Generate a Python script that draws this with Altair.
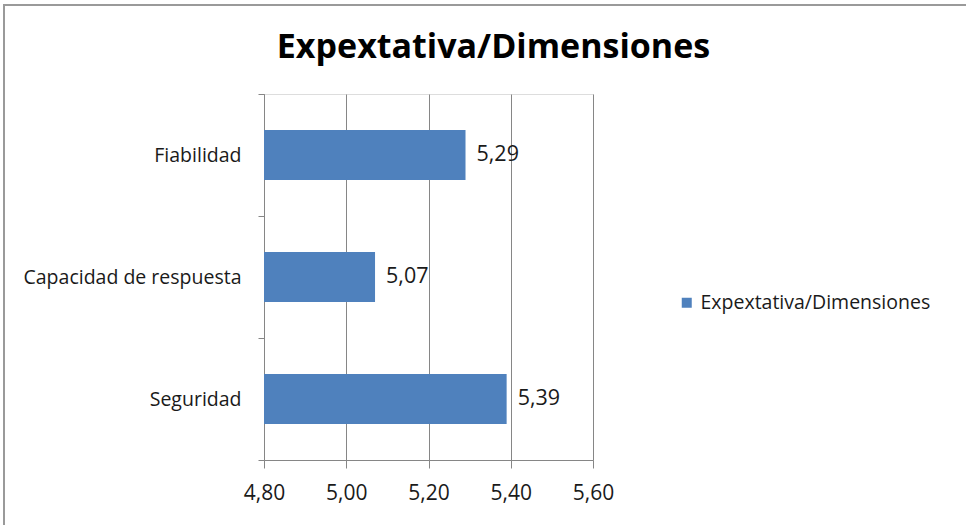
import altair as alt
import pandas as pd

# Chart data
categories = ["Fiabilidad", "Capacidad de respuesta", "Seguridad"]
values = [5.29, 5.07, 5.39]
series_name = "Expextativa/Dimensiones"
x_ticks = [4.80, 5.00, 5.20, 5.40, 5.60]

df = pd.DataFrame({
    "dimension": categories,
    "valor": values,
    "serie": [series_name] * len(categories),
})

FONT = "Open Sans"
GRAY = "#868686"
BAR = "#4F81BD"
TEXT = "#1a1a1a"
comma_fmt = "replace(format(datum.value, '.2f'), '.', ',')"

base = alt.Chart(df).transform_calculate(
    etiqueta="replace(format(datum.valor, '.2f'), '.', ',')"
)

y_enc = alt.Y(
    "dimension:N",
    sort=categories,
    title=None,
    scale=alt.Scale(paddingInner=0, paddingOuter=0),
    axis=alt.Axis(
        tickBand="extent",
        tickSize=6,
        tickColor=GRAY,
        domainColor=GRAY,
        labelFont=FONT,
        labelFontSize=19.5,
        labelColor=TEXT,
        labelPadding=17,
        labelLimit=400,
        grid=False,
    ),
)

x_enc = alt.X(
    "valor:Q",
    title=None,
    scale=alt.Scale(domain=[4.8, 5.6], zero=False, nice=False),
    axis=alt.Axis(
        values=x_ticks,
        labelExpr=comma_fmt,
        labelFlush=False,
        labelOverlap=False,
        grid=True,
        gridColor=GRAY,
        gridWidth=1,
        gridOpacity=1,
        tickSize=8,
        tickColor=GRAY,
        domainColor=GRAY,
        labelFont=FONT,
        labelFontSize=21,
        labelColor=TEXT,
        labelPadding=14,
    ),
)

bars = base.mark_bar(size=50).encode(
    y=y_enc,
    x=x_enc,
    x2=alt.datum(4.8),
    color=alt.Color(
        "serie:N",
        scale=alt.Scale(range=[BAR]),
        legend=alt.Legend(
            title=None,
            orient="none",
            legendX=413,
            legendY=199,
            symbolType="square",
            symbolSize=100,
            symbolStrokeWidth=0,
            labelFont=FONT,
            labelFontSize=19.5,
            labelLimit=400,
            labelColor=TEXT,
        ),
    ),
)

labels = base.mark_text(
    align="left", baseline="middle", dx=11, font=FONT, fontSize=21.5, color=TEXT
).encode(
    y=alt.Y("dimension:N", sort=categories),
    x=alt.X("valor:Q"),
    text="etiqueta:N",
)

# outer frame around the whole chart
frame = alt.Chart(pd.DataFrame({"f": [0]})).mark_rect(
    fill=None, stroke="#9a9a9a", strokeWidth=2, clip=False
).encode(
    x=alt.value(-260), x2=alt.value(720),
    y=alt.value(-89), y2=alt.value(450),
)

chart = alt.layer(bars, labels, frame).properties(
    width=329,
    height=366,
    padding={"left": 264, "top": 94, "right": 373, "bottom": 65},
    autosize=alt.AutoSizeParams(type="none"),
    title=alt.TitleParams(
        series_name,
        font=FONT,
        fontSize=34,
        fontWeight="bold",
        color="#000000",
        anchor="middle",
        frame="group",
        baseline="alphabetic",
        dx=65,
        offset=-88,
    ),
).configure_view(stroke=None).configure(background="white")

chart.save("out.html", embed_options={"renderer": "svg", "actions": False})
